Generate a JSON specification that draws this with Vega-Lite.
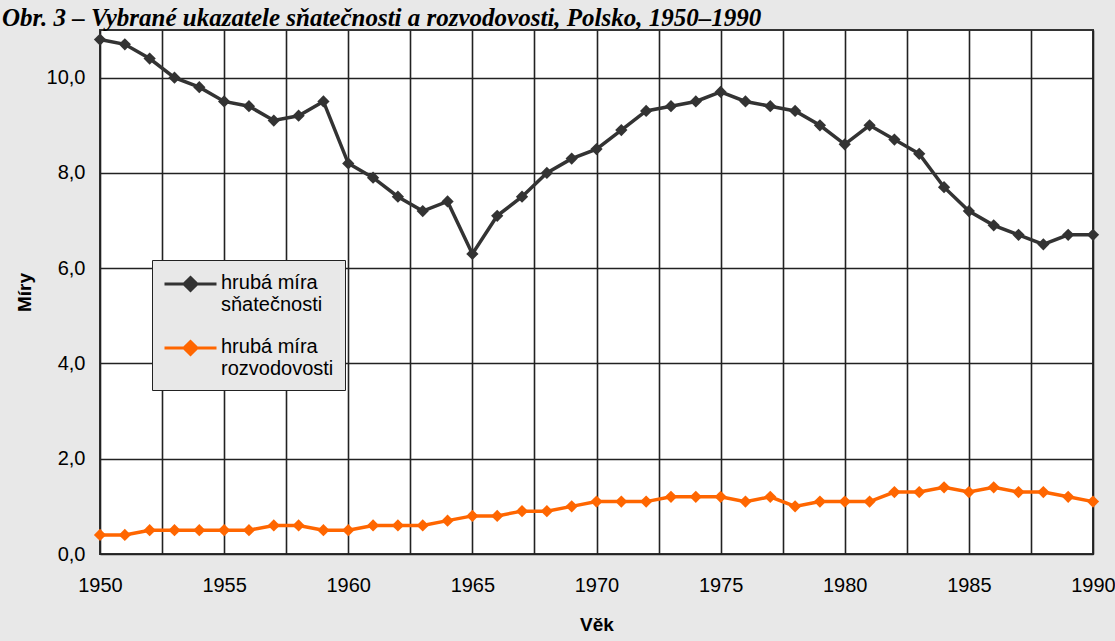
{
  "$schema": "https://vega.github.io/schema/vega-lite/v6.json",
  "autosize": "none",
  "width": 993,
  "height": 524,
  "padding": {"left": 100, "top": 30, "right": 22, "bottom": 87},
  "background": "#e8e8e8",
  "title": {
    "text": "Obr. 3 – Vybrané ukazatele sňatečnosti a rozvodovosti, Polsko, 1950–1990",
    "font": "Liberation Serif",
    "fontSize": 25,
    "fontWeight": "bold",
    "fontStyle": "italic",
    "color": "black",
    "anchor": "start",
    "frame": "group",
    "baseline": "alphabetic",
    "offset": 8,
    "dy": 29,
    "dx": -98
  },
  "config": {
    "view": {"fill": "white", "stroke": "#333333", "strokeWidth": 2},
    "font": "Liberation Sans"
  },
  "data": {
    "values": [
      {"year": 1950, "series": "hrubá míra|sňatečnosti", "v": 10.8},
      {"year": 1951, "series": "hrubá míra|sňatečnosti", "v": 10.7},
      {"year": 1952, "series": "hrubá míra|sňatečnosti", "v": 10.4},
      {"year": 1953, "series": "hrubá míra|sňatečnosti", "v": 10.0},
      {"year": 1954, "series": "hrubá míra|sňatečnosti", "v": 9.8},
      {"year": 1955, "series": "hrubá míra|sňatečnosti", "v": 9.5},
      {"year": 1956, "series": "hrubá míra|sňatečnosti", "v": 9.4},
      {"year": 1957, "series": "hrubá míra|sňatečnosti", "v": 9.1},
      {"year": 1958, "series": "hrubá míra|sňatečnosti", "v": 9.2},
      {"year": 1959, "series": "hrubá míra|sňatečnosti", "v": 9.5},
      {"year": 1960, "series": "hrubá míra|sňatečnosti", "v": 8.2},
      {"year": 1961, "series": "hrubá míra|sňatečnosti", "v": 7.9},
      {"year": 1962, "series": "hrubá míra|sňatečnosti", "v": 7.5},
      {"year": 1963, "series": "hrubá míra|sňatečnosti", "v": 7.2},
      {"year": 1964, "series": "hrubá míra|sňatečnosti", "v": 7.4},
      {"year": 1965, "series": "hrubá míra|sňatečnosti", "v": 6.3},
      {"year": 1966, "series": "hrubá míra|sňatečnosti", "v": 7.1},
      {"year": 1967, "series": "hrubá míra|sňatečnosti", "v": 7.5},
      {"year": 1968, "series": "hrubá míra|sňatečnosti", "v": 8.0},
      {"year": 1969, "series": "hrubá míra|sňatečnosti", "v": 8.3},
      {"year": 1970, "series": "hrubá míra|sňatečnosti", "v": 8.5},
      {"year": 1971, "series": "hrubá míra|sňatečnosti", "v": 8.9},
      {"year": 1972, "series": "hrubá míra|sňatečnosti", "v": 9.3},
      {"year": 1973, "series": "hrubá míra|sňatečnosti", "v": 9.4},
      {"year": 1974, "series": "hrubá míra|sňatečnosti", "v": 9.5},
      {"year": 1975, "series": "hrubá míra|sňatečnosti", "v": 9.7},
      {"year": 1976, "series": "hrubá míra|sňatečnosti", "v": 9.5},
      {"year": 1977, "series": "hrubá míra|sňatečnosti", "v": 9.4},
      {"year": 1978, "series": "hrubá míra|sňatečnosti", "v": 9.3},
      {"year": 1979, "series": "hrubá míra|sňatečnosti", "v": 9.0},
      {"year": 1980, "series": "hrubá míra|sňatečnosti", "v": 8.6},
      {"year": 1981, "series": "hrubá míra|sňatečnosti", "v": 9.0},
      {"year": 1982, "series": "hrubá míra|sňatečnosti", "v": 8.7},
      {"year": 1983, "series": "hrubá míra|sňatečnosti", "v": 8.4},
      {"year": 1984, "series": "hrubá míra|sňatečnosti", "v": 7.7},
      {"year": 1985, "series": "hrubá míra|sňatečnosti", "v": 7.2},
      {"year": 1986, "series": "hrubá míra|sňatečnosti", "v": 6.9},
      {"year": 1987, "series": "hrubá míra|sňatečnosti", "v": 6.7},
      {"year": 1988, "series": "hrubá míra|sňatečnosti", "v": 6.5},
      {"year": 1989, "series": "hrubá míra|sňatečnosti", "v": 6.7},
      {"year": 1990, "series": "hrubá míra|sňatečnosti", "v": 6.7},
      {"year": 1950, "series": "hrubá míra|rozvodovosti", "v": 0.4},
      {"year": 1951, "series": "hrubá míra|rozvodovosti", "v": 0.4},
      {"year": 1952, "series": "hrubá míra|rozvodovosti", "v": 0.5},
      {"year": 1953, "series": "hrubá míra|rozvodovosti", "v": 0.5},
      {"year": 1954, "series": "hrubá míra|rozvodovosti", "v": 0.5},
      {"year": 1955, "series": "hrubá míra|rozvodovosti", "v": 0.5},
      {"year": 1956, "series": "hrubá míra|rozvodovosti", "v": 0.5},
      {"year": 1957, "series": "hrubá míra|rozvodovosti", "v": 0.6},
      {"year": 1958, "series": "hrubá míra|rozvodovosti", "v": 0.6},
      {"year": 1959, "series": "hrubá míra|rozvodovosti", "v": 0.5},
      {"year": 1960, "series": "hrubá míra|rozvodovosti", "v": 0.5},
      {"year": 1961, "series": "hrubá míra|rozvodovosti", "v": 0.6},
      {"year": 1962, "series": "hrubá míra|rozvodovosti", "v": 0.6},
      {"year": 1963, "series": "hrubá míra|rozvodovosti", "v": 0.6},
      {"year": 1964, "series": "hrubá míra|rozvodovosti", "v": 0.7},
      {"year": 1965, "series": "hrubá míra|rozvodovosti", "v": 0.8},
      {"year": 1966, "series": "hrubá míra|rozvodovosti", "v": 0.8},
      {"year": 1967, "series": "hrubá míra|rozvodovosti", "v": 0.9},
      {"year": 1968, "series": "hrubá míra|rozvodovosti", "v": 0.9},
      {"year": 1969, "series": "hrubá míra|rozvodovosti", "v": 1.0},
      {"year": 1970, "series": "hrubá míra|rozvodovosti", "v": 1.1},
      {"year": 1971, "series": "hrubá míra|rozvodovosti", "v": 1.1},
      {"year": 1972, "series": "hrubá míra|rozvodovosti", "v": 1.1},
      {"year": 1973, "series": "hrubá míra|rozvodovosti", "v": 1.2},
      {"year": 1974, "series": "hrubá míra|rozvodovosti", "v": 1.2},
      {"year": 1975, "series": "hrubá míra|rozvodovosti", "v": 1.2},
      {"year": 1976, "series": "hrubá míra|rozvodovosti", "v": 1.1},
      {"year": 1977, "series": "hrubá míra|rozvodovosti", "v": 1.2},
      {"year": 1978, "series": "hrubá míra|rozvodovosti", "v": 1.0},
      {"year": 1979, "series": "hrubá míra|rozvodovosti", "v": 1.1},
      {"year": 1980, "series": "hrubá míra|rozvodovosti", "v": 1.1},
      {"year": 1981, "series": "hrubá míra|rozvodovosti", "v": 1.1},
      {"year": 1982, "series": "hrubá míra|rozvodovosti", "v": 1.3},
      {"year": 1983, "series": "hrubá míra|rozvodovosti", "v": 1.3},
      {"year": 1984, "series": "hrubá míra|rozvodovosti", "v": 1.4},
      {"year": 1985, "series": "hrubá míra|rozvodovosti", "v": 1.3},
      {"year": 1986, "series": "hrubá míra|rozvodovosti", "v": 1.4},
      {"year": 1987, "series": "hrubá míra|rozvodovosti", "v": 1.3},
      {"year": 1988, "series": "hrubá míra|rozvodovosti", "v": 1.3},
      {"year": 1989, "series": "hrubá míra|rozvodovosti", "v": 1.2},
      {"year": 1990, "series": "hrubá míra|rozvodovosti", "v": 1.1}
    ]
  },
  "encoding": {
    "x": {
      "field": "year",
      "type": "quantitative",
      "scale": {"domain": [1950, 1990], "nice": false, "zero": false},
      "axis": {
        "title": "Věk",
        "titleFont": "Liberation Sans",
        "titleFontSize": 19,
        "titleFontWeight": "bold",
        "titleColor": "black",
        "titlePadding": 20,
        "values": [1950, 1952.5, 1955, 1957.5, 1960, 1962.5, 1965, 1967.5, 1970, 1972.5, 1975, 1977.5, 1980, 1982.5, 1985, 1987.5, 1990],
        "labelExpr": "datum.value % 5 === 0 ? format(datum.value, 'd') : ''",
        "labelFontSize": 20,
        "labelColor": "black",
        "labelPadding": 21,
        "labelFlush": false,
        "labelOverlap": false,
        "ticks": false,
        "domain": false,
        "grid": true,
        "gridColor": "#222222",
        "gridWidth": 1.6,
        "gridOpacity": 1
      }
    },
    "y": {
      "field": "v",
      "type": "quantitative",
      "scale": {"domain": [0, 11], "nice": false},
      "axis": {
        "title": "Míry",
        "titleFont": "Liberation Sans",
        "titleFontSize": 19,
        "titleFontWeight": "bold",
        "titleColor": "black",
        "titlePadding": 12,
        "values": [0, 2, 4, 6, 8, 10],
        "labelExpr": "replace(format(datum.value, '.1f'), '.', ',')",
        "labelFontSize": 20,
        "labelColor": "black",
        "labelPadding": 15,
        "ticks": false,
        "domain": false,
        "grid": true,
        "gridColor": "#222222",
        "gridWidth": 1.6,
        "gridOpacity": 1
      }
    },
    "color": {
      "field": "series",
      "type": "nominal",
      "sort": ["hrubá míra|sňatečnosti", "hrubá míra|rozvodovosti"],
      "scale": {
        "domain": ["hrubá míra|sňatečnosti", "hrubá míra|rozvodovosti"],
        "range": ["#333333", "#ff6600"]
      },
      "legend": {
        "title": null,
        "orient": "none",
        "legendX": 52,
        "legendY": 230,
        "fillColor": "#e8e8e8",
        "strokeColor": "#222222",
        "padding": 11,
        "symbolType": "M-1,0H1M0,-0.25L0.25,0L0,0.25L-0.25,0Z",
        "symbolSize": 2704,
        "symbolStrokeWidth": 3,
        "labelFontSize": 20,
        "labelColor": "black",
        "labelFont": "Liberation Sans",
        "labelExpr": "split(datum.label, '|')",
        "labelBaseline": "top",
        "labelLineHeight": 27,
        "labelOffset": 3,
        "rowPadding": 20,
        "encode": {
          "symbols": {"update": {"fill": {"scale": "color", "field": "value"}, "y": {"value": 13}}},
          "labels": {"update": {"y": {"value": 2}}}
        }
      }
    }
  },
  "layer": [
    {"mark": {"type": "line", "strokeWidth": 3.5}},
    {"mark": {"type": "point", "shape": "diamond", "filled": true, "size": 150, "opacity": 1}}
  ]
}
